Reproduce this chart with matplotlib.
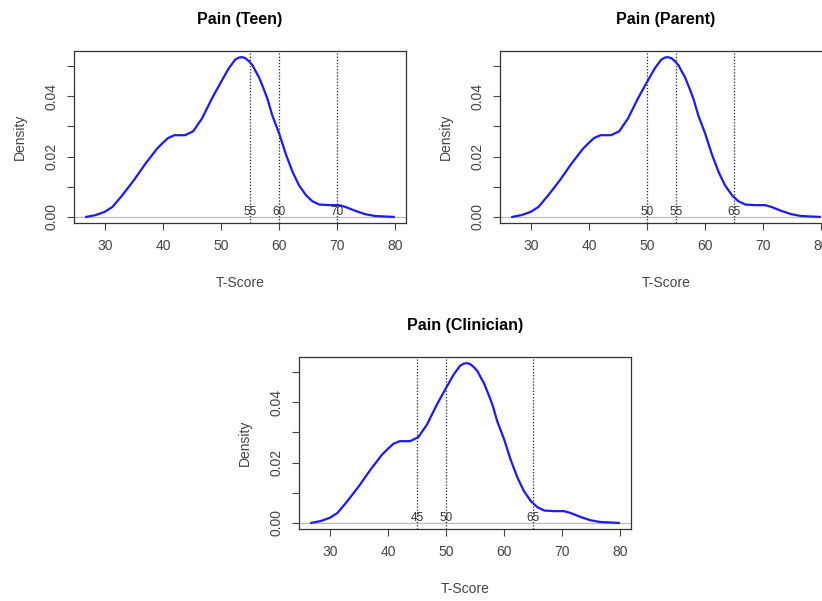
import matplotlib
matplotlib.use("Agg")
import matplotlib.pyplot as plt

plt.rcParams['font.family'] = ['Liberation Sans', 'DejaVu Sans']

# density curve (same curve in all three panels)
tscore = [26.8, 28.4, 30, 31.3, 33, 35, 37, 39, 40, 40.9, 42, 43.8, 45.2, 46.7,
          48.4, 50, 51.3, 52.4, 53.0, 53.6, 54.2, 54.8, 55.4, 56.0, 56.5,
          57.3, 58.0, 58.8, 60, 61.1, 62.3, 63.4, 64.6, 65.7, 66.9, 68.6,
          70.3, 71.4, 73.1, 74.8, 76.5, 79.7]
density = [0, 0.0006, 0.0017, 0.0033, 0.0072, 0.0122, 0.0177, 0.0227, 0.0246,
           0.0262, 0.0271, 0.0271, 0.0284, 0.0326, 0.0392, 0.0448, 0.0492,
           0.0521, 0.0528, 0.0530, 0.0526, 0.0516, 0.0503, 0.0481, 0.0464,
           0.0426, 0.0390, 0.0337, 0.0276, 0.021, 0.0149, 0.0105, 0.0072,
           0.0052, 0.0041, 0.0039, 0.0039, 0.0033, 0.002, 0.0009, 0.0003, 0.0]

titles = ["Pain (Teen)", "Pain (Parent)", "Pain (Clinician)"]
cutoffs = [[55, 60, 70], [50, 55, 65], [45, 50, 65]]

xticks = [30, 40, 50, 60, 70, 80]
yticks = [0, 0.01, 0.02, 0.03, 0.04, 0.05]
ytick_labels = ["0.00", "", "0.02", "", "0.04", ""]

W, H = 822, 601
# axes boxes in pixels: left, top, width, height
boxes = [(74, 50.7, 332, 172.6),
         (500, 50.7, 332, 172.6),
         (299, 356.7, 332, 172.6)]

fig = plt.figure(figsize=(W / 100, H / 100), dpi=100)
grey = '#444444'

for title, cuts, (l, t, w, h) in zip(titles, cutoffs, boxes):
    ax = fig.add_axes([l / W, 1 - (t + h) / H, w / W, h / H])
    ax.plot(tscore, density, color='#1a1aff', lw=1.6, zorder=3)
    ax.margins(0.04)
    ax.axhline(0, color='#bbbbbb', lw=0.9, zorder=1)
    for c in cuts:
        ax.axvline(c, color='#222222', lw=0.9, ls=(0, (1, 1.5)), zorder=2)
        ax.text(c, 0.0016, str(c), ha='center', va='center', fontsize=8.5,
                color='#333333', zorder=4)

    ax.set_xticks(xticks)
    ax.set_yticks(yticks)
    ax.set_yticklabels(ytick_labels, rotation=90, va='center')
    ax.tick_params(direction='out', length=5, width=0.8, color=grey,
                   labelcolor=grey, labelsize=10, pad=6)
    for s in ax.spines.values():
        s.set_color('#333333')
        s.set_linewidth(0.9)

    ax.set_title(title, fontsize=11.5, fontweight='bold', pad=19)
    ax.set_xlabel('T-Score', fontsize=10, color=grey, labelpad=17)
    ax.set_ylabel('Density', fontsize=10, color=grey, labelpad=13)

fig.savefig('out.png', dpi=100)
